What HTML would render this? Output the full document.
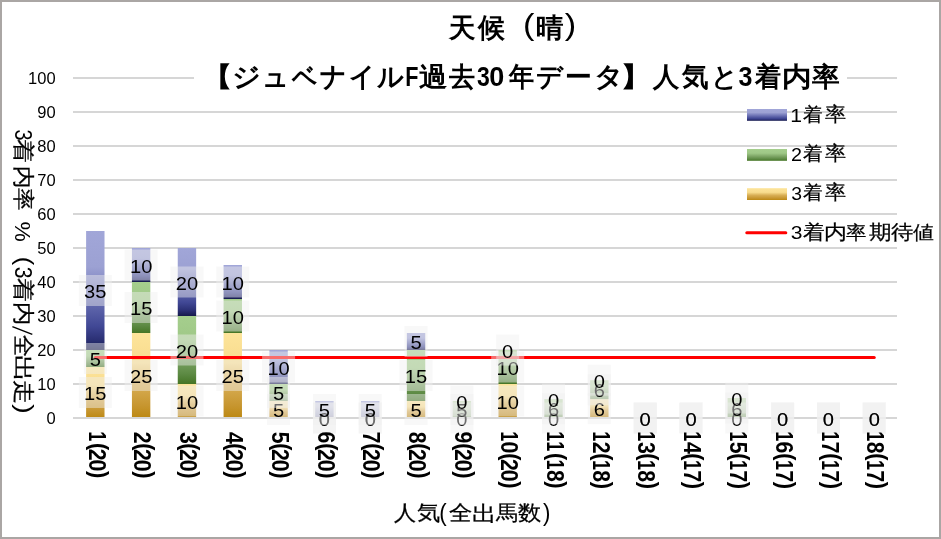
<!DOCTYPE html>
<html><head><meta charset="utf-8"><style>
html,body{margin:0;padding:0;background:#fff;}
body{width:941px;height:539px;overflow:hidden;position:relative;font-family:"Liberation Sans", sans-serif;}
svg{position:absolute;left:0;top:0;will-change:transform;}
svg text{font-family:"Liberation Sans", sans-serif;}
</style></head><body>
<svg width="941" height="539" viewBox="0 0 941 539">
<defs>
<linearGradient id="gB" x1="0" y1="0" x2="0" y2="1">
 <stop offset="0" stop-color="#a1a6d8"/><stop offset="0.3" stop-color="#9ca1d3"/>
 <stop offset="0.55" stop-color="#6e74b6"/><stop offset="0.8" stop-color="#414895"/>
 <stop offset="0.92" stop-color="#2a2f73"/><stop offset="1" stop-color="#15194a"/>
</linearGradient>
<linearGradient id="gG" x1="0" y1="0" x2="0" y2="1">
 <stop offset="0" stop-color="#a5ce8d"/><stop offset="0.35" stop-color="#9fc887"/>
 <stop offset="0.6" stop-color="#80a868"/><stop offset="0.85" stop-color="#5d8a44"/>
 <stop offset="1" stop-color="#457525"/>
</linearGradient>
<linearGradient id="gY" x1="0" y1="0" x2="0" y2="1">
 <stop offset="0" stop-color="#fde49a"/><stop offset="0.35" stop-color="#f8dc8e"/>
 <stop offset="0.6" stop-color="#d8ae55"/><stop offset="0.85" stop-color="#c79630"/>
 <stop offset="1" stop-color="#bc8812"/>
</linearGradient>
</defs>
<rect x="1" y="1" width="939" height="537" fill="#fff" stroke="#aaa6a4" stroke-width="2"/>

<rect x="73" y="417.0" width="824" height="2" fill="#d6d6d6"/>
<rect x="73" y="383.0" width="824" height="2" fill="#d6d6d6"/>
<rect x="73" y="349.0" width="824" height="2" fill="#d6d6d6"/>
<rect x="73" y="315.0" width="824" height="2" fill="#d6d6d6"/>
<rect x="73" y="281.0" width="824" height="2" fill="#d6d6d6"/>
<rect x="73" y="247.0" width="824" height="2" fill="#d6d6d6"/>
<rect x="73" y="213.0" width="824" height="2" fill="#d6d6d6"/>
<rect x="73" y="179.0" width="824" height="2" fill="#d6d6d6"/>
<rect x="73" y="145.0" width="824" height="2" fill="#d6d6d6"/>
<rect x="73" y="111.0" width="824" height="2" fill="#d6d6d6"/>
<rect x="73" y="77.0" width="824" height="2" fill="#d6d6d6"/>
<text x="55.6" y="423.9" font-size="16.5" text-anchor="end" fill="#000">0</text>
<text x="55.6" y="389.9" font-size="16.5" text-anchor="end" fill="#000">10</text>
<text x="55.6" y="355.9" font-size="16.5" text-anchor="end" fill="#000">20</text>
<text x="55.6" y="321.9" font-size="16.5" text-anchor="end" fill="#000">30</text>
<text x="55.6" y="287.9" font-size="16.5" text-anchor="end" fill="#000">40</text>
<text x="55.6" y="253.9" font-size="16.5" text-anchor="end" fill="#000">50</text>
<text x="55.6" y="219.9" font-size="16.5" text-anchor="end" fill="#000">60</text>
<text x="55.6" y="185.9" font-size="16.5" text-anchor="end" fill="#000">70</text>
<text x="55.6" y="151.9" font-size="16.5" text-anchor="end" fill="#000">80</text>
<text x="55.6" y="117.9" font-size="16.5" text-anchor="end" fill="#000">90</text>
<text x="55.6" y="83.9" font-size="16.5" text-anchor="end" fill="#000">100</text>
<rect x="86.11" y="367.00" width="18.4" height="51.00" fill="url(#gY)"/>
<rect x="86.11" y="350.00" width="18.4" height="17.00" fill="url(#gG)"/>
<rect x="86.11" y="231.00" width="18.4" height="119.00" fill="url(#gB)"/>
<rect x="131.93" y="333.00" width="18.4" height="85.00" fill="url(#gY)"/>
<rect x="131.93" y="282.00" width="18.4" height="51.00" fill="url(#gG)"/>
<rect x="131.93" y="248.00" width="18.4" height="34.00" fill="url(#gB)"/>
<rect x="177.75" y="384.00" width="18.4" height="34.00" fill="url(#gY)"/>
<rect x="177.75" y="316.00" width="18.4" height="68.00" fill="url(#gG)"/>
<rect x="177.75" y="248.00" width="18.4" height="68.00" fill="url(#gB)"/>
<rect x="223.57" y="333.00" width="18.4" height="85.00" fill="url(#gY)"/>
<rect x="223.57" y="299.00" width="18.4" height="34.00" fill="url(#gG)"/>
<rect x="223.57" y="265.00" width="18.4" height="34.00" fill="url(#gB)"/>
<rect x="269.39" y="401.00" width="18.4" height="17.00" fill="url(#gY)"/>
<rect x="269.39" y="384.00" width="18.4" height="17.00" fill="url(#gG)"/>
<rect x="269.39" y="350.00" width="18.4" height="34.00" fill="url(#gB)"/>
<rect x="315.21" y="401.00" width="18.4" height="17.00" fill="url(#gB)"/>
<rect x="361.03" y="401.00" width="18.4" height="17.00" fill="url(#gB)"/>
<rect x="406.85" y="401.00" width="18.4" height="17.00" fill="url(#gY)"/>
<rect x="406.85" y="350.00" width="18.4" height="51.00" fill="url(#gG)"/>
<rect x="406.85" y="333.00" width="18.4" height="17.00" fill="url(#gB)"/>
<rect x="452.67" y="401.00" width="18.4" height="17.00" fill="url(#gG)"/>
<rect x="498.49" y="384.00" width="18.4" height="34.00" fill="url(#gY)"/>
<rect x="498.49" y="350.00" width="18.4" height="34.00" fill="url(#gG)"/>
<rect x="544.31" y="399.11" width="18.4" height="18.89" fill="url(#gG)"/>
<rect x="590.13" y="399.11" width="18.4" height="18.89" fill="url(#gY)"/>
<rect x="590.13" y="380.22" width="18.4" height="18.89" fill="url(#gG)"/>
<rect x="727.59" y="398.00" width="18.4" height="20.00" fill="url(#gG)"/>
<rect x="73" y="417" width="824" height="2" fill="#d6d6d6"/>
<line x1="95.31" y1="357.5" x2="874.25" y2="357.5" stroke="#ff0000" stroke-width="3" stroke-linecap="round"/>
<rect x="78.81" y="377.00" width="33" height="31" fill="#f0f0f0" fill-opacity="0.45"/><text transform="translate(95.31,400.00) scale(1.15,1)" font-size="17.5" text-anchor="middle" fill="#000">15</text>
<rect x="124.63" y="360.00" width="33" height="31" fill="#f0f0f0" fill-opacity="0.45"/><text transform="translate(141.13,383.00) scale(1.15,1)" font-size="17.5" text-anchor="middle" fill="#000">25</text>
<rect x="170.45" y="385.50" width="33" height="31" fill="#f0f0f0" fill-opacity="0.45"/><text transform="translate(186.95,408.50) scale(1.15,1)" font-size="17.5" text-anchor="middle" fill="#000">10</text>
<rect x="216.27" y="360.00" width="33" height="31" fill="#f0f0f0" fill-opacity="0.45"/><text transform="translate(232.77,383.00) scale(1.15,1)" font-size="17.5" text-anchor="middle" fill="#000">25</text>
<rect x="267.09" y="394.00" width="23" height="31" fill="#f0f0f0" fill-opacity="0.45"/><text transform="translate(278.59,417.00) scale(1.15,1)" font-size="17.5" text-anchor="middle" fill="#000">5</text>
<rect x="312.91" y="402.50" width="23" height="31" fill="#f0f0f0" fill-opacity="0.45"/><text transform="translate(324.41,425.50) scale(1.15,1)" font-size="17.5" text-anchor="middle" fill="#000">0</text>
<rect x="358.73" y="402.50" width="23" height="31" fill="#f0f0f0" fill-opacity="0.45"/><text transform="translate(370.23,425.50) scale(1.15,1)" font-size="17.5" text-anchor="middle" fill="#000">0</text>
<rect x="404.55" y="394.00" width="23" height="31" fill="#f0f0f0" fill-opacity="0.45"/><text transform="translate(416.05,417.00) scale(1.15,1)" font-size="17.5" text-anchor="middle" fill="#000">5</text>
<rect x="450.37" y="402.50" width="23" height="31" fill="#f0f0f0" fill-opacity="0.45"/><text transform="translate(461.87,425.50) scale(1.15,1)" font-size="17.5" text-anchor="middle" fill="#000">0</text>
<rect x="491.19" y="385.50" width="33" height="31" fill="#f0f0f0" fill-opacity="0.45"/><text transform="translate(507.69,408.50) scale(1.15,1)" font-size="17.5" text-anchor="middle" fill="#000">10</text>
<rect x="542.01" y="402.50" width="23" height="31" fill="#f0f0f0" fill-opacity="0.45"/><text transform="translate(553.51,425.50) scale(1.15,1)" font-size="17.5" text-anchor="middle" fill="#000">0</text>
<rect x="587.83" y="393.06" width="23" height="31" fill="#f0f0f0" fill-opacity="0.45"/><text transform="translate(599.33,416.06) scale(1.15,1)" font-size="17.5" text-anchor="middle" fill="#000">6</text>
<rect x="633.65" y="402.50" width="23" height="31" fill="#f0f0f0" fill-opacity="0.45"/><text transform="translate(645.15,425.50) scale(1.15,1)" font-size="17.5" text-anchor="middle" fill="#000">0</text>
<rect x="679.47" y="402.50" width="23" height="31" fill="#f0f0f0" fill-opacity="0.45"/><text transform="translate(690.97,425.50) scale(1.15,1)" font-size="17.5" text-anchor="middle" fill="#000">0</text>
<rect x="725.29" y="402.50" width="23" height="31" fill="#f0f0f0" fill-opacity="0.45"/><text transform="translate(736.79,425.50) scale(1.15,1)" font-size="17.5" text-anchor="middle" fill="#000">0</text>
<rect x="771.11" y="402.50" width="23" height="31" fill="#f0f0f0" fill-opacity="0.45"/><text transform="translate(782.61,425.50) scale(1.15,1)" font-size="17.5" text-anchor="middle" fill="#000">0</text>
<rect x="816.93" y="402.50" width="23" height="31" fill="#f0f0f0" fill-opacity="0.45"/><text transform="translate(828.43,425.50) scale(1.15,1)" font-size="17.5" text-anchor="middle" fill="#000">0</text>
<rect x="862.75" y="402.50" width="23" height="31" fill="#f0f0f0" fill-opacity="0.45"/><text transform="translate(874.25,425.50) scale(1.15,1)" font-size="17.5" text-anchor="middle" fill="#000">0</text>
<rect x="83.81" y="343.00" width="23" height="31" fill="#f0f0f0" fill-opacity="0.45"/><text transform="translate(95.31,366.00) scale(1.15,1)" font-size="17.5" text-anchor="middle" fill="#000">5</text>
<rect x="124.63" y="292.00" width="33" height="31" fill="#f0f0f0" fill-opacity="0.45"/><text transform="translate(141.13,315.00) scale(1.15,1)" font-size="17.5" text-anchor="middle" fill="#000">15</text>
<rect x="170.45" y="334.50" width="33" height="31" fill="#f0f0f0" fill-opacity="0.45"/><text transform="translate(186.95,357.50) scale(1.15,1)" font-size="17.5" text-anchor="middle" fill="#000">20</text>
<rect x="216.27" y="300.50" width="33" height="31" fill="#f0f0f0" fill-opacity="0.45"/><text transform="translate(232.77,323.50) scale(1.15,1)" font-size="17.5" text-anchor="middle" fill="#000">10</text>
<rect x="267.09" y="377.00" width="23" height="31" fill="#f0f0f0" fill-opacity="0.45"/><text transform="translate(278.59,400.00) scale(1.15,1)" font-size="17.5" text-anchor="middle" fill="#000">5</text>
<rect x="312.91" y="402.50" width="23" height="31" fill="#f0f0f0" fill-opacity="0.45"/><text transform="translate(324.41,425.50) scale(1.15,1)" font-size="17.5" text-anchor="middle" fill="#000">0</text>
<rect x="358.73" y="402.50" width="23" height="31" fill="#f0f0f0" fill-opacity="0.45"/><text transform="translate(370.23,425.50) scale(1.15,1)" font-size="17.5" text-anchor="middle" fill="#000">0</text>
<rect x="399.55" y="360.00" width="33" height="31" fill="#f0f0f0" fill-opacity="0.45"/><text transform="translate(416.05,383.00) scale(1.15,1)" font-size="17.5" text-anchor="middle" fill="#000">15</text>
<rect x="450.37" y="394.00" width="23" height="31" fill="#f0f0f0" fill-opacity="0.45"/><text transform="translate(461.87,417.00) scale(1.15,1)" font-size="17.5" text-anchor="middle" fill="#000">5</text>
<rect x="491.19" y="351.50" width="33" height="31" fill="#f0f0f0" fill-opacity="0.45"/><text transform="translate(507.69,374.50) scale(1.15,1)" font-size="17.5" text-anchor="middle" fill="#000">10</text>
<rect x="542.01" y="393.06" width="23" height="31" fill="#f0f0f0" fill-opacity="0.45"/><text transform="translate(553.51,416.06) scale(1.15,1)" font-size="17.5" text-anchor="middle" fill="#000">6</text>
<rect x="587.83" y="374.17" width="23" height="31" fill="#f0f0f0" fill-opacity="0.45"/><text transform="translate(599.33,397.17) scale(1.15,1)" font-size="17.5" text-anchor="middle" fill="#000">6</text>
<rect x="633.65" y="402.50" width="23" height="31" fill="#f0f0f0" fill-opacity="0.45"/><text transform="translate(645.15,425.50) scale(1.15,1)" font-size="17.5" text-anchor="middle" fill="#000">0</text>
<rect x="679.47" y="402.50" width="23" height="31" fill="#f0f0f0" fill-opacity="0.45"/><text transform="translate(690.97,425.50) scale(1.15,1)" font-size="17.5" text-anchor="middle" fill="#000">0</text>
<rect x="725.29" y="392.50" width="23" height="31" fill="#f0f0f0" fill-opacity="0.45"/><text transform="translate(736.79,415.50) scale(1.15,1)" font-size="17.5" text-anchor="middle" fill="#000">6</text>
<rect x="771.11" y="402.50" width="23" height="31" fill="#f0f0f0" fill-opacity="0.45"/><text transform="translate(782.61,425.50) scale(1.15,1)" font-size="17.5" text-anchor="middle" fill="#000">0</text>
<rect x="816.93" y="402.50" width="23" height="31" fill="#f0f0f0" fill-opacity="0.45"/><text transform="translate(828.43,425.50) scale(1.15,1)" font-size="17.5" text-anchor="middle" fill="#000">0</text>
<rect x="862.75" y="402.50" width="23" height="31" fill="#f0f0f0" fill-opacity="0.45"/><text transform="translate(874.25,425.50) scale(1.15,1)" font-size="17.5" text-anchor="middle" fill="#000">0</text>
<rect x="78.81" y="275.00" width="33" height="31" fill="#f0f0f0" fill-opacity="0.45"/><text transform="translate(95.31,298.00) scale(1.15,1)" font-size="17.5" text-anchor="middle" fill="#000">35</text>
<rect x="124.63" y="249.50" width="33" height="31" fill="#f0f0f0" fill-opacity="0.45"/><text transform="translate(141.13,272.50) scale(1.15,1)" font-size="17.5" text-anchor="middle" fill="#000">10</text>
<rect x="170.45" y="266.50" width="33" height="31" fill="#f0f0f0" fill-opacity="0.45"/><text transform="translate(186.95,289.50) scale(1.15,1)" font-size="17.5" text-anchor="middle" fill="#000">20</text>
<rect x="216.27" y="266.50" width="33" height="31" fill="#f0f0f0" fill-opacity="0.45"/><text transform="translate(232.77,289.50) scale(1.15,1)" font-size="17.5" text-anchor="middle" fill="#000">10</text>
<rect x="262.09" y="351.50" width="33" height="31" fill="#f0f0f0" fill-opacity="0.45"/><text transform="translate(278.59,374.50) scale(1.15,1)" font-size="17.5" text-anchor="middle" fill="#000">10</text>
<rect x="312.91" y="394.00" width="23" height="31" fill="#f0f0f0" fill-opacity="0.45"/><text transform="translate(324.41,417.00) scale(1.15,1)" font-size="17.5" text-anchor="middle" fill="#000">5</text>
<rect x="358.73" y="394.00" width="23" height="31" fill="#f0f0f0" fill-opacity="0.45"/><text transform="translate(370.23,417.00) scale(1.15,1)" font-size="17.5" text-anchor="middle" fill="#000">5</text>
<rect x="404.55" y="326.00" width="23" height="31" fill="#f0f0f0" fill-opacity="0.45"/><text transform="translate(416.05,349.00) scale(1.15,1)" font-size="17.5" text-anchor="middle" fill="#000">5</text>
<rect x="450.37" y="385.50" width="23" height="31" fill="#f0f0f0" fill-opacity="0.45"/><text transform="translate(461.87,408.50) scale(1.15,1)" font-size="17.5" text-anchor="middle" fill="#000">0</text>
<rect x="496.19" y="334.50" width="23" height="31" fill="#f0f0f0" fill-opacity="0.45"/><text transform="translate(507.69,357.50) scale(1.15,1)" font-size="17.5" text-anchor="middle" fill="#000">0</text>
<rect x="542.01" y="383.61" width="23" height="31" fill="#f0f0f0" fill-opacity="0.45"/><text transform="translate(553.51,406.61) scale(1.15,1)" font-size="17.5" text-anchor="middle" fill="#000">0</text>
<rect x="587.83" y="364.72" width="23" height="31" fill="#f0f0f0" fill-opacity="0.45"/><text transform="translate(599.33,387.72) scale(1.15,1)" font-size="17.5" text-anchor="middle" fill="#000">0</text>
<rect x="633.65" y="402.50" width="23" height="31" fill="#f0f0f0" fill-opacity="0.45"/><text transform="translate(645.15,425.50) scale(1.15,1)" font-size="17.5" text-anchor="middle" fill="#000">0</text>
<rect x="679.47" y="402.50" width="23" height="31" fill="#f0f0f0" fill-opacity="0.45"/><text transform="translate(690.97,425.50) scale(1.15,1)" font-size="17.5" text-anchor="middle" fill="#000">0</text>
<rect x="725.29" y="382.50" width="23" height="31" fill="#f0f0f0" fill-opacity="0.45"/><text transform="translate(736.79,405.50) scale(1.15,1)" font-size="17.5" text-anchor="middle" fill="#000">0</text>
<rect x="771.11" y="402.50" width="23" height="31" fill="#f0f0f0" fill-opacity="0.45"/><text transform="translate(782.61,425.50) scale(1.15,1)" font-size="17.5" text-anchor="middle" fill="#000">0</text>
<rect x="816.93" y="402.50" width="23" height="31" fill="#f0f0f0" fill-opacity="0.45"/><text transform="translate(828.43,425.50) scale(1.15,1)" font-size="17.5" text-anchor="middle" fill="#000">0</text>
<rect x="862.75" y="402.50" width="23" height="31" fill="#f0f0f0" fill-opacity="0.45"/><text transform="translate(874.25,425.50) scale(1.15,1)" font-size="17.5" text-anchor="middle" fill="#000">0</text>
<text transform="translate(88.51,431.32) rotate(90) scale(0.74,1)" font-size="24.4" font-weight="bold" fill="#000">1</text><text transform="translate(90.81,443.00) rotate(90) scale(0.94,1)" font-size="23.5" font-weight="bold" fill="#000">(</text><text transform="translate(88.51,448.76) rotate(90) scale(0.87,1)" font-size="24.4" font-weight="bold" fill="#000">2</text><text transform="translate(88.51,459.45) rotate(90) scale(0.87,1)" font-size="24.4" font-weight="bold" fill="#000">0</text><text transform="translate(90.81,470.95) rotate(90) scale(0.94,1)" font-size="23.5" font-weight="bold" fill="#000">)</text>
<text transform="translate(134.33,431.76) rotate(90) scale(0.87,1)" font-size="24.4" font-weight="bold" fill="#000">2</text><text transform="translate(136.63,443.30) rotate(90) scale(0.94,1)" font-size="23.5" font-weight="bold" fill="#000">(</text><text transform="translate(134.33,449.06) rotate(90) scale(0.87,1)" font-size="24.4" font-weight="bold" fill="#000">2</text><text transform="translate(134.33,459.75) rotate(90) scale(0.87,1)" font-size="24.4" font-weight="bold" fill="#000">0</text><text transform="translate(136.63,471.25) rotate(90) scale(0.94,1)" font-size="23.5" font-weight="bold" fill="#000">)</text>
<text transform="translate(180.15,431.98) rotate(90) scale(0.87,1)" font-size="24.4" font-weight="bold" fill="#000">3</text><text transform="translate(182.45,443.30) rotate(90) scale(0.94,1)" font-size="23.5" font-weight="bold" fill="#000">(</text><text transform="translate(180.15,449.06) rotate(90) scale(0.87,1)" font-size="24.4" font-weight="bold" fill="#000">2</text><text transform="translate(180.15,459.75) rotate(90) scale(0.87,1)" font-size="24.4" font-weight="bold" fill="#000">0</text><text transform="translate(182.45,471.25) rotate(90) scale(0.94,1)" font-size="23.5" font-weight="bold" fill="#000">)</text>
<text transform="translate(225.97,431.98) rotate(90) scale(0.87,1)" font-size="24.4" font-weight="bold" fill="#000">4</text><text transform="translate(228.27,443.30) rotate(90) scale(0.94,1)" font-size="23.5" font-weight="bold" fill="#000">(</text><text transform="translate(225.97,449.06) rotate(90) scale(0.87,1)" font-size="24.4" font-weight="bold" fill="#000">2</text><text transform="translate(225.97,459.75) rotate(90) scale(0.87,1)" font-size="24.4" font-weight="bold" fill="#000">0</text><text transform="translate(228.27,471.25) rotate(90) scale(0.94,1)" font-size="23.5" font-weight="bold" fill="#000">)</text>
<text transform="translate(271.79,431.76) rotate(90) scale(0.87,1)" font-size="24.4" font-weight="bold" fill="#000">5</text><text transform="translate(274.09,443.30) rotate(90) scale(0.94,1)" font-size="23.5" font-weight="bold" fill="#000">(</text><text transform="translate(271.79,449.06) rotate(90) scale(0.87,1)" font-size="24.4" font-weight="bold" fill="#000">2</text><text transform="translate(271.79,459.75) rotate(90) scale(0.87,1)" font-size="24.4" font-weight="bold" fill="#000">0</text><text transform="translate(274.09,471.25) rotate(90) scale(0.94,1)" font-size="23.5" font-weight="bold" fill="#000">)</text>
<text transform="translate(317.61,431.55) rotate(90) scale(0.87,1)" font-size="24.4" font-weight="bold" fill="#000">6</text><text transform="translate(319.91,443.30) rotate(90) scale(0.94,1)" font-size="23.5" font-weight="bold" fill="#000">(</text><text transform="translate(317.61,449.06) rotate(90) scale(0.87,1)" font-size="24.4" font-weight="bold" fill="#000">2</text><text transform="translate(317.61,459.75) rotate(90) scale(0.87,1)" font-size="24.4" font-weight="bold" fill="#000">0</text><text transform="translate(319.91,471.25) rotate(90) scale(0.94,1)" font-size="23.5" font-weight="bold" fill="#000">)</text>
<text transform="translate(363.43,431.55) rotate(90) scale(0.87,1)" font-size="24.4" font-weight="bold" fill="#000">7</text><text transform="translate(365.73,443.30) rotate(90) scale(0.94,1)" font-size="23.5" font-weight="bold" fill="#000">(</text><text transform="translate(363.43,449.06) rotate(90) scale(0.87,1)" font-size="24.4" font-weight="bold" fill="#000">2</text><text transform="translate(363.43,459.75) rotate(90) scale(0.87,1)" font-size="24.4" font-weight="bold" fill="#000">0</text><text transform="translate(365.73,471.25) rotate(90) scale(0.94,1)" font-size="23.5" font-weight="bold" fill="#000">)</text>
<text transform="translate(409.25,431.76) rotate(90) scale(0.87,1)" font-size="24.4" font-weight="bold" fill="#000">8</text><text transform="translate(411.55,443.30) rotate(90) scale(0.94,1)" font-size="23.5" font-weight="bold" fill="#000">(</text><text transform="translate(409.25,449.06) rotate(90) scale(0.87,1)" font-size="24.4" font-weight="bold" fill="#000">2</text><text transform="translate(409.25,459.75) rotate(90) scale(0.87,1)" font-size="24.4" font-weight="bold" fill="#000">0</text><text transform="translate(411.55,471.25) rotate(90) scale(0.94,1)" font-size="23.5" font-weight="bold" fill="#000">)</text>
<text transform="translate(455.07,431.55) rotate(90) scale(0.87,1)" font-size="24.4" font-weight="bold" fill="#000">9</text><text transform="translate(457.37,443.30) rotate(90) scale(0.94,1)" font-size="23.5" font-weight="bold" fill="#000">(</text><text transform="translate(455.07,449.06) rotate(90) scale(0.87,1)" font-size="24.4" font-weight="bold" fill="#000">2</text><text transform="translate(455.07,459.75) rotate(90) scale(0.87,1)" font-size="24.4" font-weight="bold" fill="#000">0</text><text transform="translate(457.37,471.25) rotate(90) scale(0.94,1)" font-size="23.5" font-weight="bold" fill="#000">)</text>
<text transform="translate(500.89,431.32) rotate(90) scale(0.74,1)" font-size="24.4" font-weight="bold" fill="#000">1</text><text transform="translate(500.89,441.55) rotate(90) scale(0.87,1)" font-size="24.4" font-weight="bold" fill="#000">0</text><text transform="translate(503.19,453.30) rotate(90) scale(0.94,1)" font-size="23.5" font-weight="bold" fill="#000">(</text><text transform="translate(500.89,459.06) rotate(90) scale(0.87,1)" font-size="24.4" font-weight="bold" fill="#000">2</text><text transform="translate(500.89,469.75) rotate(90) scale(0.87,1)" font-size="24.4" font-weight="bold" fill="#000">0</text><text transform="translate(503.19,481.25) rotate(90) scale(0.94,1)" font-size="23.5" font-weight="bold" fill="#000">)</text>
<text transform="translate(546.71,431.32) rotate(90) scale(0.74,1)" font-size="24.4" font-weight="bold" fill="#000">1</text><text transform="translate(546.71,441.32) rotate(90) scale(0.74,1)" font-size="24.4" font-weight="bold" fill="#000">1</text><text transform="translate(549.01,453.00) rotate(90) scale(0.94,1)" font-size="23.5" font-weight="bold" fill="#000">(</text><text transform="translate(546.71,459.62) rotate(90) scale(0.74,1)" font-size="24.4" font-weight="bold" fill="#000">1</text><text transform="translate(546.71,470.06) rotate(90) scale(0.87,1)" font-size="24.4" font-weight="bold" fill="#000">8</text><text transform="translate(549.01,481.35) rotate(90) scale(0.94,1)" font-size="23.5" font-weight="bold" fill="#000">)</text>
<text transform="translate(592.53,431.32) rotate(90) scale(0.74,1)" font-size="24.4" font-weight="bold" fill="#000">1</text><text transform="translate(592.53,441.76) rotate(90) scale(0.87,1)" font-size="24.4" font-weight="bold" fill="#000">2</text><text transform="translate(594.83,453.30) rotate(90) scale(0.94,1)" font-size="23.5" font-weight="bold" fill="#000">(</text><text transform="translate(592.53,459.92) rotate(90) scale(0.74,1)" font-size="24.4" font-weight="bold" fill="#000">1</text><text transform="translate(592.53,470.36) rotate(90) scale(0.87,1)" font-size="24.4" font-weight="bold" fill="#000">8</text><text transform="translate(594.83,481.65) rotate(90) scale(0.94,1)" font-size="23.5" font-weight="bold" fill="#000">)</text>
<text transform="translate(638.35,431.32) rotate(90) scale(0.74,1)" font-size="24.4" font-weight="bold" fill="#000">1</text><text transform="translate(638.35,441.98) rotate(90) scale(0.87,1)" font-size="24.4" font-weight="bold" fill="#000">3</text><text transform="translate(640.65,453.30) rotate(90) scale(0.94,1)" font-size="23.5" font-weight="bold" fill="#000">(</text><text transform="translate(638.35,459.92) rotate(90) scale(0.74,1)" font-size="24.4" font-weight="bold" fill="#000">1</text><text transform="translate(638.35,470.36) rotate(90) scale(0.87,1)" font-size="24.4" font-weight="bold" fill="#000">8</text><text transform="translate(640.65,481.65) rotate(90) scale(0.94,1)" font-size="23.5" font-weight="bold" fill="#000">)</text>
<text transform="translate(684.17,431.32) rotate(90) scale(0.74,1)" font-size="24.4" font-weight="bold" fill="#000">1</text><text transform="translate(684.17,441.98) rotate(90) scale(0.87,1)" font-size="24.4" font-weight="bold" fill="#000">4</text><text transform="translate(686.47,453.30) rotate(90) scale(0.94,1)" font-size="23.5" font-weight="bold" fill="#000">(</text><text transform="translate(684.17,459.92) rotate(90) scale(0.74,1)" font-size="24.4" font-weight="bold" fill="#000">1</text><text transform="translate(684.17,470.15) rotate(90) scale(0.87,1)" font-size="24.4" font-weight="bold" fill="#000">7</text><text transform="translate(686.47,481.65) rotate(90) scale(0.94,1)" font-size="23.5" font-weight="bold" fill="#000">)</text>
<text transform="translate(729.99,431.32) rotate(90) scale(0.74,1)" font-size="24.4" font-weight="bold" fill="#000">1</text><text transform="translate(729.99,441.76) rotate(90) scale(0.87,1)" font-size="24.4" font-weight="bold" fill="#000">5</text><text transform="translate(732.29,453.30) rotate(90) scale(0.94,1)" font-size="23.5" font-weight="bold" fill="#000">(</text><text transform="translate(729.99,459.92) rotate(90) scale(0.74,1)" font-size="24.4" font-weight="bold" fill="#000">1</text><text transform="translate(729.99,470.15) rotate(90) scale(0.87,1)" font-size="24.4" font-weight="bold" fill="#000">7</text><text transform="translate(732.29,481.65) rotate(90) scale(0.94,1)" font-size="23.5" font-weight="bold" fill="#000">)</text>
<text transform="translate(775.81,431.32) rotate(90) scale(0.74,1)" font-size="24.4" font-weight="bold" fill="#000">1</text><text transform="translate(775.81,441.55) rotate(90) scale(0.87,1)" font-size="24.4" font-weight="bold" fill="#000">6</text><text transform="translate(778.11,453.30) rotate(90) scale(0.94,1)" font-size="23.5" font-weight="bold" fill="#000">(</text><text transform="translate(775.81,459.92) rotate(90) scale(0.74,1)" font-size="24.4" font-weight="bold" fill="#000">1</text><text transform="translate(775.81,470.15) rotate(90) scale(0.87,1)" font-size="24.4" font-weight="bold" fill="#000">7</text><text transform="translate(778.11,481.65) rotate(90) scale(0.94,1)" font-size="23.5" font-weight="bold" fill="#000">)</text>
<text transform="translate(821.63,431.32) rotate(90) scale(0.74,1)" font-size="24.4" font-weight="bold" fill="#000">1</text><text transform="translate(821.63,441.55) rotate(90) scale(0.87,1)" font-size="24.4" font-weight="bold" fill="#000">7</text><text transform="translate(823.93,453.30) rotate(90) scale(0.94,1)" font-size="23.5" font-weight="bold" fill="#000">(</text><text transform="translate(821.63,459.92) rotate(90) scale(0.74,1)" font-size="24.4" font-weight="bold" fill="#000">1</text><text transform="translate(821.63,470.15) rotate(90) scale(0.87,1)" font-size="24.4" font-weight="bold" fill="#000">7</text><text transform="translate(823.93,481.65) rotate(90) scale(0.94,1)" font-size="23.5" font-weight="bold" fill="#000">)</text>
<text transform="translate(867.45,431.32) rotate(90) scale(0.74,1)" font-size="24.4" font-weight="bold" fill="#000">1</text><text transform="translate(867.45,441.76) rotate(90) scale(0.87,1)" font-size="24.4" font-weight="bold" fill="#000">8</text><text transform="translate(869.75,453.30) rotate(90) scale(0.94,1)" font-size="23.5" font-weight="bold" fill="#000">(</text><text transform="translate(867.45,459.92) rotate(90) scale(0.74,1)" font-size="24.4" font-weight="bold" fill="#000">1</text><text transform="translate(867.45,470.15) rotate(90) scale(0.87,1)" font-size="24.4" font-weight="bold" fill="#000">7</text><text transform="translate(869.75,481.65) rotate(90) scale(0.94,1)" font-size="23.5" font-weight="bold" fill="#000">)</text>
<rect x="194" y="50" width="653" height="44" fill="#fff"/>
<text transform="translate(449.46,36.70) scale(0.976,1)" font-size="27" font-weight="bold" fill="#000">天</text>
<text transform="translate(478.34,36.70) scale(0.997,1)" font-size="27" font-weight="bold" fill="#000">候</text>
<text transform="translate(535.90,36.70) scale(1.02,1)" font-size="27" font-weight="bold" fill="#000">晴</text>
<text transform="translate(523.04,34.50) scale(1.17,1)" font-size="29.4" fill="#000">(</text>
<text transform="translate(564.66,34.50) scale(1.17,1)" font-size="29.4" fill="#000">)</text>
<text transform="translate(200.75,85.50) scale(1.175,1)" font-size="27" font-weight="bold" fill="#000">【</text>
<text transform="translate(231.84,85.50) scale(1.047,1)" font-size="27" font-weight="bold" fill="#000">ジ</text>
<text transform="translate(261.53,85.50) scale(0.978,1)" font-size="27" font-weight="bold" fill="#000">ュ</text>
<text transform="translate(291.80,85.50) scale(0.92,1)" font-size="27" font-weight="bold" fill="#000">ベ</text>
<text transform="translate(320.18,85.50) scale(0.961,1)" font-size="27" font-weight="bold" fill="#000">ナ</text>
<text transform="translate(349.43,85.50) scale(0.944,1)" font-size="27" font-weight="bold" fill="#000">イ</text>
<text transform="translate(377.24,85.50) scale(0.967,1)" font-size="27" font-weight="bold" fill="#000">ル</text>
<text transform="translate(405.29,85.50) scale(0.8,1)" font-size="27" font-weight="bold" fill="#000">F</text>
<text transform="translate(419.22,85.50) scale(1.046,1)" font-size="27" font-weight="bold" fill="#000">過</text>
<text transform="translate(449.40,85.50) scale(0.967,1)" font-size="27" font-weight="bold" fill="#000">去</text>
<text transform="translate(477.04,85.50) scale(0.852,1)" font-size="27" font-weight="bold" fill="#000">3</text>
<text transform="translate(489.22,85.50) scale(1.001,1)" font-size="27" font-weight="bold" fill="#000">0</text>
<text transform="translate(508.60,85.50) scale(0.932,1)" font-size="27" font-weight="bold" fill="#000">年</text>
<text transform="translate(535.95,85.50) scale(0.973,1)" font-size="27" font-weight="bold" fill="#000">デ</text>
<text transform="translate(565.13,85.50) scale(0.991,1)" font-size="27" font-weight="bold" fill="#000">ー</text>
<text transform="translate(593.70,85.50) scale(1.072,1)" font-size="27" font-weight="bold" fill="#000">タ</text>
<text transform="translate(619.79,85.50) scale(1.226,1)" font-size="27" font-weight="bold" fill="#000">】</text>
<text transform="translate(652.56,85.50) scale(0.97,1)" font-size="27" font-weight="bold" fill="#000">人</text>
<text transform="translate(681.97,85.50) scale(0.986,1)" font-size="27" font-weight="bold" fill="#000">気</text>
<text transform="translate(710.57,85.50) scale(0.98,1)" font-size="27" font-weight="bold" fill="#000">と</text>
<text transform="translate(738.50,85.50) scale(0.926,1)" font-size="27" font-weight="bold" fill="#000">3</text>
<text transform="translate(755.26,85.50) scale(0.967,1)" font-size="27" font-weight="bold" fill="#000">着</text>
<text transform="translate(781.92,85.50) scale(1.098,1)" font-size="27" font-weight="bold" fill="#000">内</text>
<text transform="translate(812.00,85.50) scale(1.027,1)" font-size="27" font-weight="bold" fill="#000">率</text>
<text transform="translate(14.70,129.41) rotate(90) scale(0.835,1)" font-size="23.7" fill="#000">3</text>
<text transform="translate(16.40,139.33) rotate(90) scale(1.078,1)" font-size="22" stroke="#000" stroke-width="0.25" fill="#000">着</text>
<text transform="translate(16.40,165.50) rotate(90) scale(1.02,1)" font-size="22" stroke="#000" stroke-width="0.25" fill="#000">内</text>
<text transform="translate(16.40,188.15) rotate(90) scale(1.02,1)" font-size="22" stroke="#000" stroke-width="0.25" fill="#000">率</text>
<text transform="translate(15.40,221.39) rotate(90) scale(1.024,1)" font-size="22.3" fill="#000">%</text>
<text transform="translate(17.30,256.68) rotate(90) scale(1.104,1)" font-size="23" fill="#000">(</text>
<text transform="translate(14.70,266.66) rotate(90) scale(0.889,1)" font-size="23.7" fill="#000">3</text>
<text transform="translate(16.40,278.43) rotate(90) scale(1.078,1)" font-size="22" stroke="#000" stroke-width="0.25" fill="#000">着</text>
<text transform="translate(16.40,302.33) rotate(90) scale(1.064,1)" font-size="22" stroke="#000" stroke-width="0.25" fill="#000">内</text>
<text transform="translate(16.40,335.36) rotate(90) scale(0.997,1)" font-size="22" stroke="#000" stroke-width="0.25" fill="#000">全</text>
<text transform="translate(16.40,355.46) rotate(90) scale(1.241,1)" font-size="22" stroke="#000" stroke-width="0.25" fill="#000">出</text>
<text transform="translate(16.40,380.24) rotate(90) scale(1.093,1)" font-size="22" stroke="#000" stroke-width="0.25" fill="#000">走</text>
<text transform="translate(17.30,404.10) rotate(90) scale(1.3,1)" font-size="23" fill="#000">)</text>
<line x1="12.4" y1="326.6" x2="32.3" y2="334.3" stroke="#000" stroke-width="1.4"/>
<text transform="translate(393.86,519.99) scale(1.054,1)" font-size="21" stroke="#000" stroke-width="0.25" fill="#000">人</text>
<text transform="translate(416.73,519.78) scale(1.111,1)" font-size="21" stroke="#000" stroke-width="0.25" fill="#000">気</text>
<text transform="translate(439.26,521.22) scale(0.929,1)" font-size="24" fill="#000">(</text>
<text transform="translate(449.13,520.41) scale(1.111,1)" font-size="21" stroke="#000" stroke-width="0.25" fill="#000">全</text>
<text transform="translate(472.33,520.62) scale(1.166,1)" font-size="21" stroke="#000" stroke-width="0.25" fill="#000">出</text>
<text transform="translate(495.72,519.78) scale(1.042,1)" font-size="21" stroke="#000" stroke-width="0.25" fill="#000">馬</text>
<text transform="translate(518.17,519.99) scale(1.111,1)" font-size="21" stroke="#000" stroke-width="0.25" fill="#000">数</text>
<text transform="translate(543.08,521.22) scale(0.929,1)" font-size="24" fill="#000">)</text>
<rect x="747" y="109" width="40" height="11.8" fill="url(#gB)"/>
<rect x="747" y="149" width="40" height="11.8" fill="url(#gG)"/>
<rect x="747" y="188.2" width="40" height="11.8" fill="url(#gY)"/>
<line x1="746.8" y1="232.8" x2="785.8" y2="232.8" stroke="#ff0000" stroke-width="3" stroke-linecap="round"/>
<text transform="translate(790.21,121.50) scale(1.114,1)" font-size="19" fill="#000">1</text>
<text transform="translate(802.90,120.78) scale(1.031,1)" font-size="19.5" stroke="#000" stroke-width="0.25" fill="#000">着</text>
<text transform="translate(824.69,120.78) scale(1.058,1)" font-size="19.5" stroke="#000" stroke-width="0.25" fill="#000">率</text>
<text transform="translate(790.91,160.80) scale(1.041,1)" font-size="19" fill="#000">2</text>
<text transform="translate(802.90,160.07) scale(1.031,1)" font-size="19.5" stroke="#000" stroke-width="0.25" fill="#000">着</text>
<text transform="translate(824.69,160.07) scale(1.058,1)" font-size="19.5" stroke="#000" stroke-width="0.25" fill="#000">率</text>
<text transform="translate(791.13,200.10) scale(1.019,1)" font-size="19" fill="#000">3</text>
<text transform="translate(802.90,199.38) scale(1.031,1)" font-size="19.5" stroke="#000" stroke-width="0.25" fill="#000">着</text>
<text transform="translate(824.69,199.38) scale(1.058,1)" font-size="19.5" stroke="#000" stroke-width="0.25" fill="#000">率</text>
<text transform="translate(790.76,239.40) scale(1.109,1)" font-size="19" fill="#000">3</text>
<text transform="translate(802.68,238.67) scale(1.08,1)" font-size="19.5" stroke="#000" stroke-width="0.25" fill="#000">着</text>
<text transform="translate(824.40,238.67) scale(1.151,1)" font-size="19.5" stroke="#000" stroke-width="0.25" fill="#000">内</text>
<text transform="translate(846.38,238.67) scale(1.075,1)" font-size="19.5" stroke="#000" stroke-width="0.25" fill="#000">率</text>
<text transform="translate(868.56,238.67) scale(1.128,1)" font-size="19.5" stroke="#000" stroke-width="0.25" fill="#000">期</text>
<text transform="translate(891.08,238.67) scale(1.112,1)" font-size="19.5" stroke="#000" stroke-width="0.25" fill="#000">待</text>
<text transform="translate(912.70,238.67) scale(1.1,1)" font-size="19.5" stroke="#000" stroke-width="0.25" fill="#000">値</text>
</svg></body></html>
